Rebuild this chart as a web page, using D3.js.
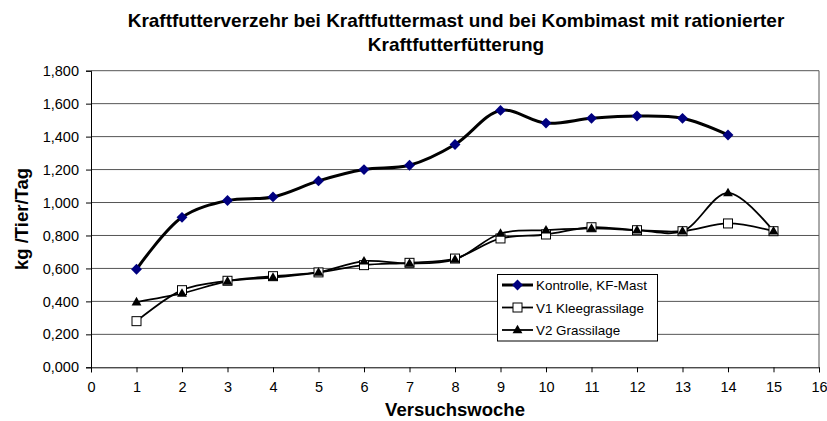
<!DOCTYPE html>
<html>
<head>
<meta charset="utf-8">
<script src="https://cdn.jsdelivr.net/npm/d3@7"></script>
<style>
  html, body { margin: 0; padding: 0; background: #fff; }
  svg { display: block; font-family: "Liberation Sans", Arial, sans-serif; }
</style>
</head>
<body>
<svg id="chart" width="827" height="421"></svg>
<script>
const titleLines = ["Kraftfutterverzehr bei Kraftfuttermast und bei Kombimast mit rationierter", "Kraftfutterfütterung"];
const xTitle = "Versuchswoche";
const yTitle = "kg /Tier/Tag";
const xTicks = d3.range(0, 17);
const yTicks = [0, 0.2, 0.4, 0.6, 0.8, 1.0, 1.2, 1.4, 1.6, 1.8];

const kontrolleWeeks = [1, 2, 3, 4, 5, 6, 7, 8, 9, 10, 11, 12, 13, 14];
const kontrolle = [0.595, 0.91, 1.012, 1.034, 1.131, 1.20, 1.226, 1.352, 1.559, 1.482, 1.511, 1.525, 1.511, 1.41];
const vWeeks = [1, 2, 3, 4, 5, 6, 7, 8, 9, 10, 11, 12, 13, 14, 15];
const v1Klee = [0.28, 0.468, 0.525, 0.553, 0.576, 0.62, 0.634, 0.66, 0.782, 0.806, 0.85, 0.832, 0.826, 0.873, 0.826];
const v2Gras = [0.396, 0.448, 0.522, 0.545, 0.576, 0.644, 0.63, 0.655, 0.812, 0.832, 0.843, 0.832, 0.826, 1.058, 0.826];
const seriesNames = ["Kontrolle, KF-Mast", "V1 Kleegrassilage", "V2 Grassilage"];

const svg = d3.select("#chart");
const m = { left: 91, right: 819, top: 70.7, bottom: 367.3 };
const x = d3.scaleLinear().domain([0, 16]).range([m.left, m.right]);
const y = d3.scaleLinear().domain([0, 1.8]).range([m.bottom, m.top]);

// title
svg.append("text").attr("x", 456).attr("y", 27).attr("text-anchor", "middle")
  .attr("font-size", "19px").attr("font-weight", "bold").text(titleLines[0]);
svg.append("text").attr("x", 456).attr("y", 51).attr("text-anchor", "middle")
  .attr("font-size", "19px").attr("font-weight", "bold").text(titleLines[1]);

// grid
svg.append("g").selectAll("line").data(yTicks.slice(1)).join("line")
  .attr("x1", m.left).attr("x2", m.right)
  .attr("y1", d => y(d)).attr("y2", d => y(d))
  .attr("stroke", "#555").attr("stroke-width", 1);
// right border
svg.append("line").attr("x1", m.right).attr("x2", m.right).attr("y1", m.top).attr("y2", m.bottom)
  .attr("stroke", "#555").attr("stroke-width", 1);

// axes
const fmt = d => d3.format(".3f")(d).replace(".", ",");
const yAxis = d3.axisLeft(y).tickValues(yTicks).tickSize(5).tickPadding(7).tickFormat(fmt);
const gy = svg.append("g").attr("transform", `translate(${m.left},0)`).call(yAxis);
gy.selectAll("text").attr("font-size", "14.5px").attr("fill", "#000")
  .attr("font-family", "Liberation Sans, Arial, sans-serif");
gy.selectAll("line, path").attr("stroke", "#000");

const xAxis = d3.axisBottom(x).tickValues(xTicks).tickSize(5).tickPadding(9).tickFormat(d3.format("d"));
const gx = svg.append("g").attr("transform", `translate(0,${m.bottom})`).call(xAxis);
gx.selectAll("text").attr("font-size", "14.5px").attr("fill", "#000")
  .attr("font-family", "Liberation Sans, Arial, sans-serif");
gx.selectAll("line, path").attr("stroke", "#000");

// axis titles
svg.append("text").attr("x", 455).attr("y", 416).attr("text-anchor", "middle")
  .attr("font-size", "18.5px").attr("font-weight", "bold").text(xTitle);
svg.append("text").attr("transform", "translate(28,219) rotate(-90)").attr("text-anchor", "middle")
  .attr("font-size", "18.5px").attr("font-weight", "bold").text(yTitle);

// lines
const curve = d3.curveCatmullRom.alpha(0.5);
function lineFor(weeks) {
  return d3.line().x((d, i) => x(weeks[i])).y(d => y(d)).curve(curve);
}
svg.append("path").datum(v1Klee).attr("d", lineFor(vWeeks))
  .attr("fill", "none").attr("stroke", "#000").attr("stroke-width", 1.8);
svg.append("path").datum(v2Gras).attr("d", lineFor(vWeeks))
  .attr("fill", "none").attr("stroke", "#000").attr("stroke-width", 1.8);
svg.append("path").datum(kontrolle).attr("d", lineFor(kontrolleWeeks))
  .attr("fill", "none").attr("stroke", "#000").attr("stroke-width", 3);

// markers
const diamond = d3.symbol().type(d3.symbolDiamond2).size(75);
const tri = d3.symbol().type(d3.symbolTriangle).size(42);

function squares(g, pts) {
  g.selectAll("rect").data(pts).join("rect")
    .attr("x", d => d[0] - 4.5).attr("y", d => d[1] - 4.5)
    .attr("width", 9).attr("height", 9)
    .attr("fill", "#fff").attr("stroke", "#000").attr("stroke-width", 1);
}
function triangles(g, pts) {
  g.selectAll("path").data(pts).join("path")
    .attr("d", tri).attr("transform", d => `translate(${d[0]},${d[1] + 0.5})`)
    .attr("fill", "#000");
}
function diamonds(g, pts) {
  g.selectAll("path").data(pts).join("path")
    .attr("d", diamond).attr("transform", d => `translate(${d[0]},${d[1]})`)
    .attr("fill", "#000080");
}
squares(svg.append("g"), v1Klee.map((v, i) => [x(vWeeks[i]), y(v)]));
triangles(svg.append("g"), v2Gras.map((v, i) => [x(vWeeks[i]), y(v)]));
diamonds(svg.append("g"), kontrolle.map((v, i) => [x(kontrolleWeeks[i]), y(v)]));

// legend
const lg = svg.append("g");
lg.append("rect").attr("x", 497.5).attr("y", 274.5).attr("width", 160).attr("height", 66.5)
  .attr("fill", "#fff").attr("stroke", "#000").attr("stroke-width", 1);
const rows = [285, 307.5, 330];
const widths = [3, 1.8, 1.8];
rows.forEach((ry, i) => {
  lg.append("line").attr("x1", 502).attr("x2", 533).attr("y1", ry).attr("y2", ry)
    .attr("stroke", "#000").attr("stroke-width", widths[i]);
  lg.append("text").attr("x", 536).attr("y", ry + 5).attr("font-size", "13.4px").text(seriesNames[i]);
});
diamonds(lg.append("g"), [[517.5, rows[0]]]);
squares(lg.append("g"), [[517.5, rows[1]]]);
triangles(lg.append("g"), [[517.5, rows[2]]]);
</script>
</body>
</html>
